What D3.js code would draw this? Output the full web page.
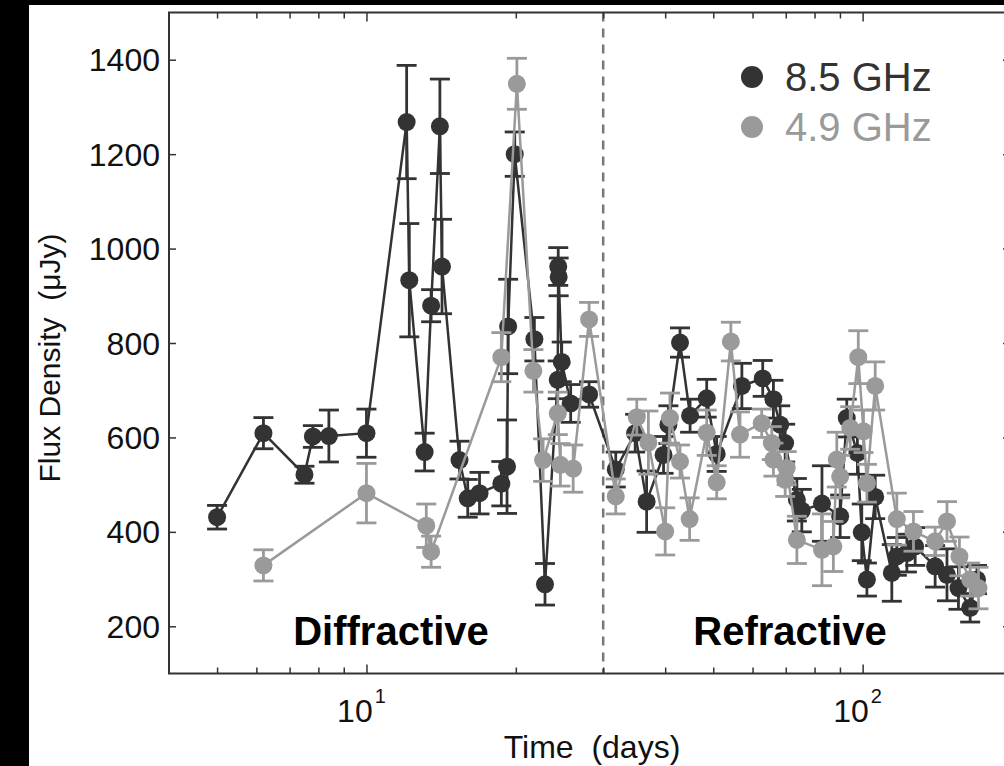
<!DOCTYPE html>
<html>
<head>
<meta charset="utf-8">
<script src="https://cdn.jsdelivr.net/npm/d3@7"></script>
<style>
  body { margin: 0; background: #000; }
  svg { display: block; font-family: "Liberation Sans", Arial, sans-serif; }
</style>
</head>
<body>
<svg id="chart" width="1004" height="766"></svg>
<script>
// 8.5 GHz light curve (days, µJy, 1-sigma error)
const days85 = [5.0, 6.2, 7.5, 7.8, 8.4, 10.0, 12.05, 12.2, 13.1, 13.5, 14.06, 14.2, 15.4, 16.0, 16.9, 18.7, 19.2, 19.3, 19.9, 21.8, 22.9,
  24.29, 24.35, 24.4, 24.75, 25.8, 28.1, 31.8, 34.8, 36.7, 39.7, 40.6, 42.85, 44.9, 48.5, 50.8, 57.1, 62.9, 66.1, 68.2, 69.8,
  73.7, 75.4, 82.8, 90.1, 92.9, 97.6, 99.6, 102, 106, 114.5, 117.2, 122.8, 127.6, 140, 147.9, 156, 164.7, 170];
const flux85 = [431, 609, 521, 602, 603, 609, 1268, 933, 569, 879, 1259, 962, 552, 471, 482, 502, 538, 835, 1200, 808, 289,
  722, 962, 940, 760, 672, 691, 532, 609, 464, 563, 627, 801, 646, 683, 565, 709, 725, 681, 627, 588,
  468, 445, 460, 433, 641, 567, 399, 299, 474, 313, 348, 355, 369, 327, 309, 281, 239, 299];
const err85 = [25, 33, 18, 23, 55, 51, 120, 120, 40, 34, 100, 100, 40, 40, 44, 47, 99, 100, 47, 46, 44,
  40, 40, 40, 42, 40, 27, 37, 40, 65, 39, 40, 31, 35, 40, 37, 48, 38, 40, 40, 40,
  45, 45, 80, 45, 40, 45, 60, 35, 46, 60, 40, 40, 40, 44, 55, 45, 30, 30];

// 4.9 GHz light curve
const days49 = [6.2, 10.0, 13.2, 13.5, 18.7, 20.1, 21.7, 22.7, 24.3, 24.6, 26.1, 28.1, 31.8, 35.06, 37.0, 40.0, 40.9, 42.85,
  44.8, 48.5, 50.8, 54.25, 56.6, 62.6, 65.6, 66.1, 69.8, 70.3, 73.7, 82.8, 87.3, 88.7, 90.1, 94.4, 98.0, 100.4, 102, 106,
  117.2, 126.6, 140, 147.9, 156.7, 164.7, 171.2];
const flux49 = [329, 482, 413, 358, 770, 1349, 741, 552, 651, 542, 534, 850, 475, 643, 589, 401, 641, 549,
  427, 610, 505, 803, 606, 630, 588, 553, 510, 535, 383, 362, 369, 553, 517, 620, 770, 613, 503, 709,
  427, 401, 380, 422, 348, 299, 281];
const err49 = [33, 63, 46, 33, 52, 54, 45, 45, 45, 45, 50, 36, 37, 38, 67, 50, 53, 35,
  45, 48, 35, 41, 48, 30, 35, 35, 35, 35, 50, 76, 53, 58, 45, 45, 56, 45, 40, 51,
  55, 42, 30, 42, 41, 35, 44];

const yTicks = [200, 400, 600, 800, 1000, 1200, 1400];
const xMinorTicks = [5, 6, 7, 8, 9, 20, 30, 40, 50, 60, 70, 80, 90, 200];
const xMajorTicks = [10, 100];
const boundaryDay = 30;

const colDark = "#333333", colGrey = "#9a9a9a";

const svg = d3.select("#chart");
svg.append("rect").attr("width", 1004).attr("height", 766).attr("fill", "#000");
svg.append("rect").attr("x", 29).attr("y", 5).attr("width", 975).attr("height", 761).attr("fill", "#fff");

const x = d3.scaleLog().domain([4, 200]).range([169, 1012]);
const y = d3.scaleLinear().domain([100, 1500]).range([673.5, 12.5]);

const series = [
  { name: "8.5 GHz", color: colDark, data: days85.map((d, i) => ({ t: d, f: flux85[i], e: err85[i] })) },
  { name: "4.9 GHz", color: colGrey, data: days49.map((d, i) => ({ t: d, f: flux49[i], e: err49[i] })) }
];

// dashed boundary line
svg.append("line")
  .attr("x1", x(boundaryDay)).attr("x2", x(boundaryDay))
  .attr("y1", y(1500)).attr("y2", y(100))
  .attr("stroke", "#777").attr("stroke-width", 2.5).attr("stroke-dasharray", "9,7");

// axes (ticks point inward)
const axisCol = "#333";
function styleAxis(g) {
  g.select(".domain").remove();
  g.selectAll("line").attr("stroke", axisCol).attr("stroke-width", 1.5);
  g.selectAll("text").remove();
}
svg.append("g").attr("transform", `translate(0,${y(100)})`)
  .call(d3.axisTop(x).tickValues(xMinorTicks).tickSize(6).tickFormat("")).call(styleAxis);
svg.append("g").attr("transform", `translate(0,${y(100)})`)
  .call(d3.axisTop(x).tickValues(xMajorTicks).tickSize(9).tickFormat("")).call(styleAxis);
svg.append("g").attr("transform", `translate(0,${y(1500)})`)
  .call(d3.axisBottom(x).tickValues(xMinorTicks).tickSize(6).tickFormat("")).call(styleAxis);
svg.append("g").attr("transform", `translate(0,${y(1500)})`)
  .call(d3.axisBottom(x).tickValues(xMajorTicks).tickSize(9).tickFormat("")).call(styleAxis);
svg.append("g").attr("transform", `translate(${x(4)},0)`)
  .call(d3.axisRight(y).tickValues(yTicks).tickSize(7).tickFormat("")).call(styleAxis);
svg.append("g").attr("transform", `translate(${x(200)},0)`)
  .call(d3.axisLeft(y).tickValues(yTicks).tickSize(9).tickFormat("")).call(styleAxis);

// frame
svg.append("rect")
  .attr("x", x(4)).attr("y", y(1500))
  .attr("width", x(200) - x(4)).attr("height", y(100) - y(1500))
  .attr("fill", "none").attr("stroke", axisCol).attr("stroke-width", 2);

// y tick labels
svg.append("g").selectAll("text").data(yTicks).join("text")
  .attr("x", 160).attr("y", d => y(d)).attr("dy", "0.36em")
  .attr("text-anchor", "end").attr("font-size", 32).attr("fill", "#111")
  .text(d => d);

// x tick labels 10^1, 10^2
const xl = svg.append("g").selectAll("text").data(xMajorTicks).join("text")
  .attr("x", d => x(d) - 5).attr("y", 722)
  .attr("text-anchor", "middle").attr("font-size", 32).attr("fill", "#111");
xl.append("tspan").text("10");
xl.append("tspan").attr("dx", 2).attr("dy", -19).attr("font-size", 20).text(d => Math.round(Math.log10(d)));

// axis titles
svg.append("text").attr("x", 592).attr("y", 758).attr("text-anchor", "middle")
  .attr("font-size", 32).attr("fill", "#111").text("Time\u00a0 (days)");
svg.append("text").attr("transform", "translate(60,358) rotate(-90)").attr("text-anchor", "middle")
  .attr("font-size", 30).attr("fill", "#111").text("Flux Density\u00a0 (\u03bcJy)");

// regime labels
svg.append("text").attr("x", 391).attr("y", 645).attr("text-anchor", "middle")
  .attr("font-size", 40).attr("font-weight", "bold").attr("fill", "#000").text("Diffractive");
svg.append("text").attr("x", 790).attr("y", 645).attr("text-anchor", "middle")
  .attr("font-size", 40).attr("font-weight", "bold").attr("fill", "#000").text("Refractive");

// data
const line = d3.line().x(d => x(d.t)).y(d => y(d.f));
const capW = 10;
series.forEach(s => {
  const g = svg.append("g");
  g.append("path").datum(s.data).attr("d", line)
    .attr("fill", "none").attr("stroke", s.color).attr("stroke-width", 2.5);
  const eb = g.append("g").attr("stroke", s.color).attr("stroke-width", 2.8);
  eb.selectAll(".v").data(s.data).join("line")
    .attr("x1", d => x(d.t)).attr("x2", d => x(d.t))
    .attr("y1", d => y(d.f - d.e)).attr("y2", d => y(d.f + d.e));
  eb.selectAll(".top").data(s.data).join("line")
    .attr("x1", d => x(d.t) - capW).attr("x2", d => x(d.t) + capW)
    .attr("y1", d => y(d.f + d.e)).attr("y2", d => y(d.f + d.e));
  eb.selectAll(".bot").data(s.data).join("line")
    .attr("x1", d => x(d.t) - capW).attr("x2", d => x(d.t) + capW)
    .attr("y1", d => y(d.f - d.e)).attr("y2", d => y(d.f - d.e));
  g.selectAll("circle").data(s.data).join("circle")
    .attr("cx", d => x(d.t)).attr("cy", d => y(d.f)).attr("r", 9)
    .attr("fill", s.color);
});

// legend
const leg = svg.append("g");
series.forEach((s, i) => {
  leg.append("circle").attr("cx", 752).attr("cy", 77 + i * 50).attr("r", 11).attr("fill", s.color);
  leg.append("text").attr("x", 785).attr("y", 91 + i * 50)
    .attr("font-size", 40).attr("fill", s.color).text(s.name);
});
</script>
</body>
</html>
